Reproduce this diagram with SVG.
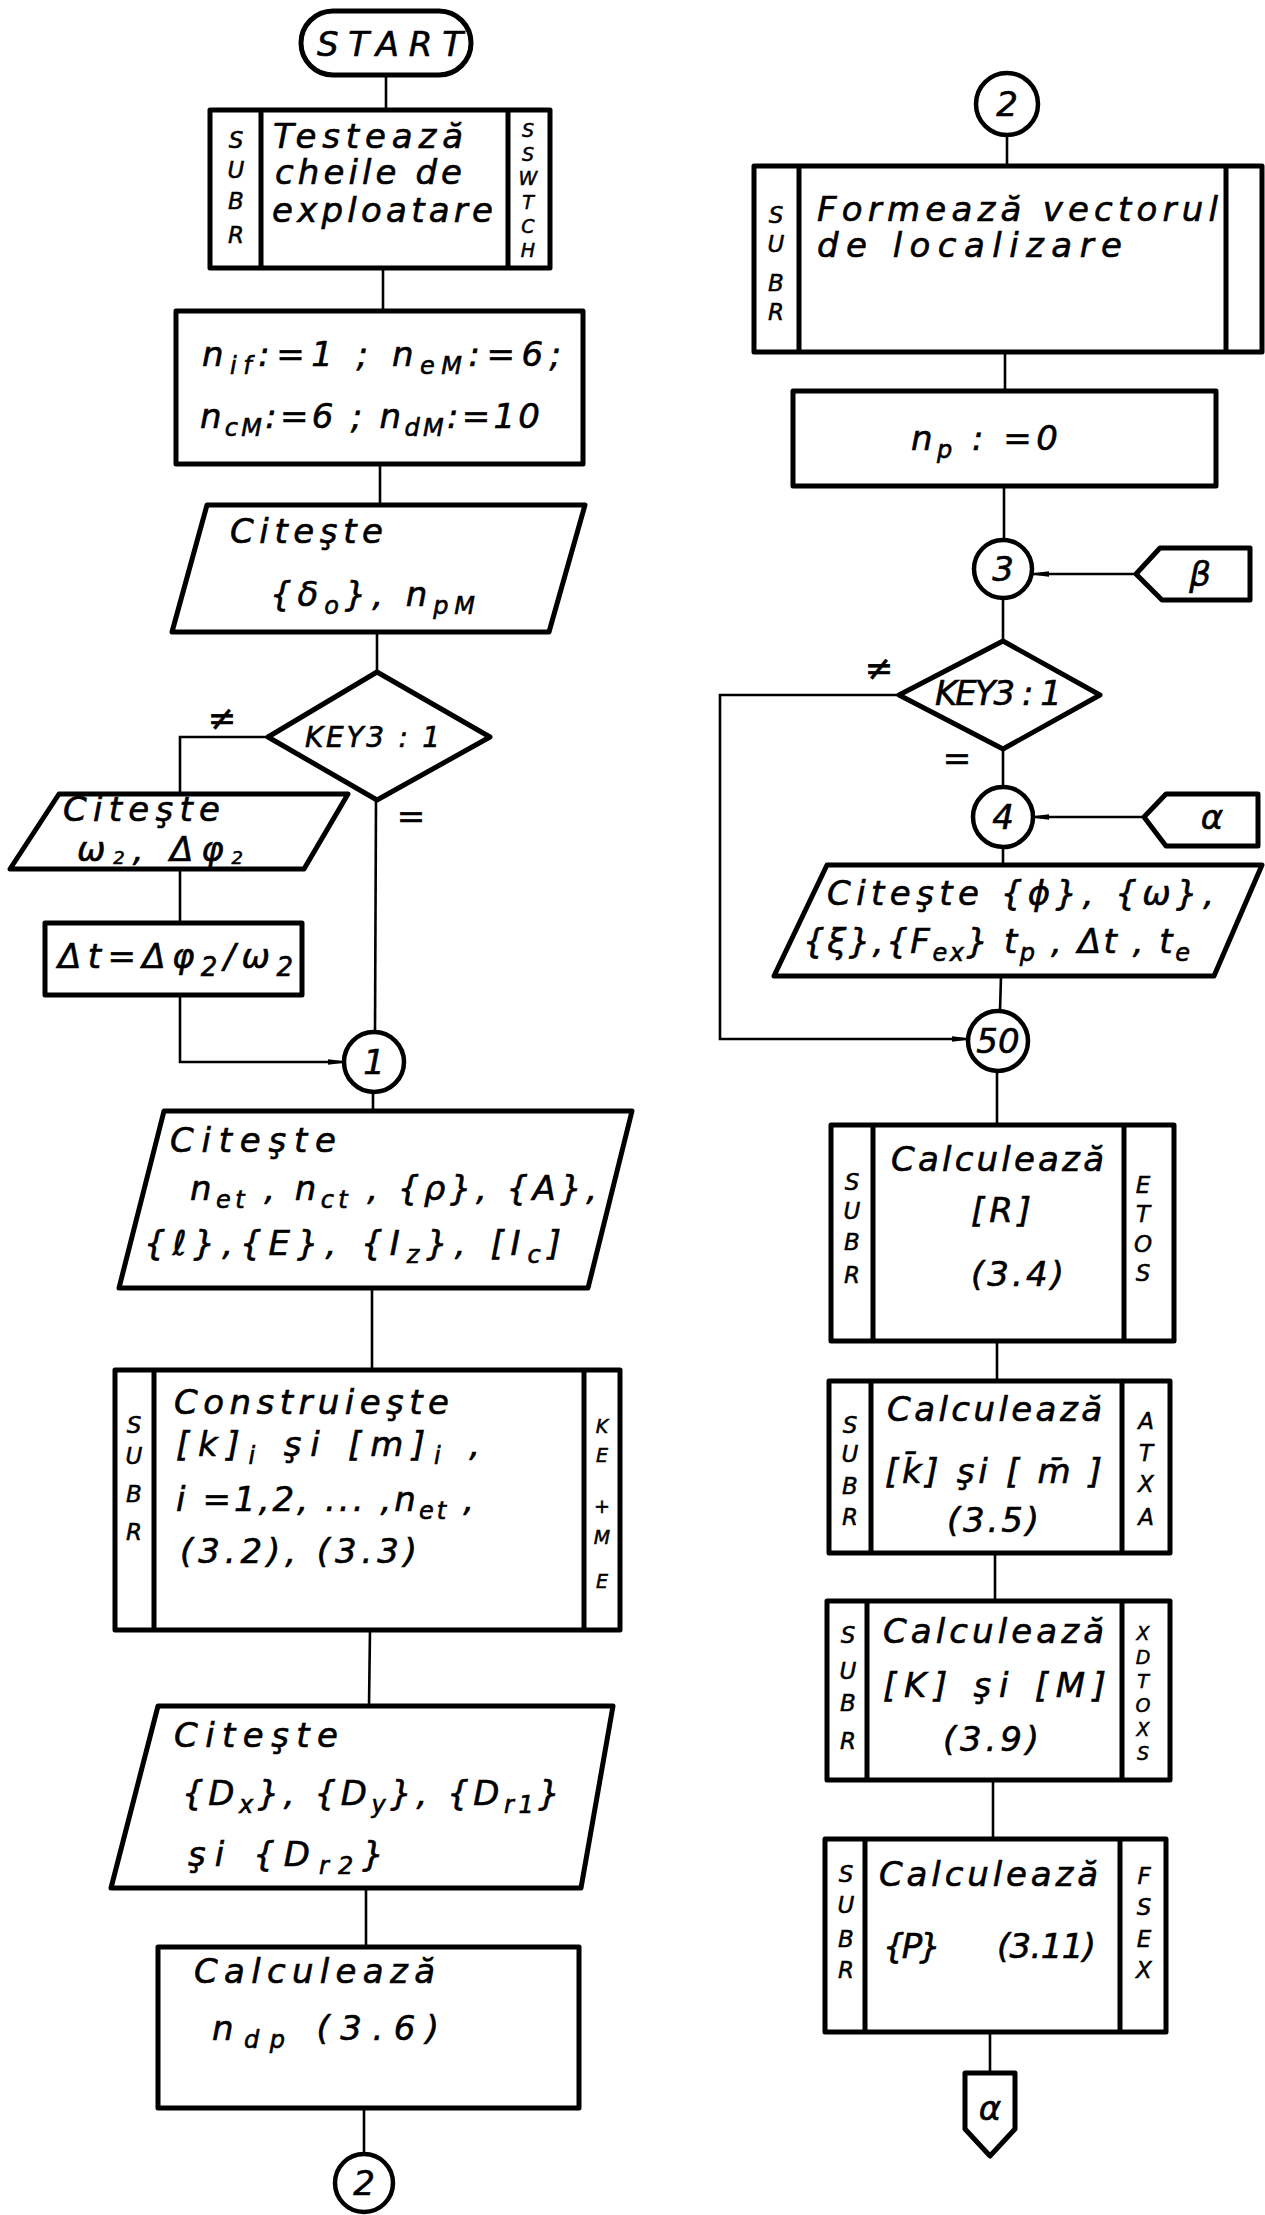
<svg xmlns="http://www.w3.org/2000/svg" width="1265" height="2215" viewBox="0 0 1265 2215">
<style>
.bx{fill:none;stroke:#000;stroke-width:5;stroke-linejoin:round}
.dv{stroke:#000;stroke-width:5}
.cr{fill:none;stroke:#000;stroke-width:4.5}
.ln{fill:none;stroke:#000;stroke-width:2.6}
.t{font-family:"DejaVu Sans","Liberation Sans",sans-serif;font-style:italic;font-size:34px;fill:#000;stroke:#000;stroke-width:0.6}
.m{font-size:28px}
.s{font-family:"DejaVu Sans","Liberation Sans",sans-serif;font-style:italic;font-size:23px;fill:#000;stroke:#000;stroke-width:0.5;text-anchor:middle}
.ss{font-size:19px}
.c{text-anchor:middle;dominant-baseline:central}
</style>
<defs>
<marker id="arr" viewBox="0 0 16 8" refX="16" refY="4" markerWidth="16" markerHeight="8" markerUnits="userSpaceOnUse" orient="auto"><path d="M0,2 L16,4 L0,6 z" fill="#000" stroke="#000" stroke-width="1.5"/></marker>
</defs>
<rect width="1265" height="2215" fill="#fff"/>

<g id="connectors">
<line class="ln" x1="386" y1="75" x2="386" y2="110"/>
<line class="ln" x1="383" y1="268" x2="383" y2="311"/>
<line class="ln" x1="380" y1="464" x2="380" y2="505"/>
<line class="ln" x1="377" y1="632" x2="377" y2="672"/>
<polyline class="ln" points="268,737 180,737 180,794"/>
<line class="ln" x1="180" y1="869" x2="180" y2="923"/>
<polyline class="ln" points="180,995 180,1062 344,1062" marker-end="url(#arr)"/>
<line class="ln" x1="376" y1="800" x2="375" y2="1032"/>
<line class="ln" x1="373" y1="1092" x2="373" y2="1111"/>
<line class="ln" x1="372" y1="1288" x2="372" y2="1370"/>
<line class="ln" x1="370" y1="1630" x2="369" y2="1706"/>
<line class="ln" x1="366" y1="1888" x2="366" y2="1947"/>
<line class="ln" x1="364" y1="2108" x2="364" y2="2154"/>
<line class="ln" x1="1007" y1="135" x2="1007" y2="166"/>
<line class="ln" x1="1005" y1="352" x2="1005" y2="391"/>
<line class="ln" x1="1004" y1="486" x2="1004" y2="540"/>
<line class="ln" x1="1136" y1="574" x2="1033" y2="574" marker-end="url(#arr)"/>
<line class="ln" x1="1003" y1="598" x2="1003" y2="641"/>
<polyline class="ln" points="899,695 720,695 720,1039 968,1039" marker-end="url(#arr)"/>
<line class="ln" x1="1003" y1="749" x2="1003" y2="787"/>
<line class="ln" x1="1144" y1="817" x2="1033" y2="817" marker-end="url(#arr)"/>
<line class="ln" x1="1003" y1="847" x2="1003" y2="865"/>
<line class="ln" x1="1001" y1="976" x2="1000" y2="1011"/>
<line class="ln" x1="997" y1="1071" x2="997" y2="1125"/>
<line class="ln" x1="997" y1="1341" x2="997" y2="1381"/>
<line class="ln" x1="995" y1="1553" x2="995" y2="1601"/>
<line class="ln" x1="993" y1="1780" x2="993" y2="1839"/>
<line class="ln" x1="990" y1="2032" x2="990" y2="2073"/>
<text class="t" x="222" y="730" font-size="32" text-anchor="middle">≠</text>
<text class="t" x="411" y="828" font-size="30" text-anchor="middle">=</text>
<text class="t" x="879" y="680" font-size="32" text-anchor="middle">≠</text>
<text class="t" x="957" y="770" font-size="30" text-anchor="middle">=</text>
</g>

<g id="start">
<rect class="bx" x="301" y="11" width="170" height="64" rx="32"/>
<text class="t" x="317" y="56" font-size="33" stroke-width="1.2" textLength="146" lengthAdjust="spacing">START</text>
</g>

<g id="subr-testeaza">
<rect class="bx" x="210" y="110" width="340" height="158"/>
<line class="dv" x1="261" y1="110" x2="261" y2="268"/>
<line class="dv" x1="508" y1="110" x2="508" y2="268"/>
<text class="s" x="236"><tspan x="236" y="148">S</tspan><tspan x="236" y="178">U</tspan><tspan x="236" y="209">B</tspan><tspan x="236" y="243">R</tspan></text>
<text class="s ss" x="528"><tspan x="528" y="137">S</tspan><tspan x="528" y="161">S</tspan><tspan x="528" y="185">W</tspan><tspan x="528" y="209">T</tspan><tspan x="528" y="233">C</tspan><tspan x="528" y="257">H</tspan></text>
<text class="t" x="273" y="148" font-size="27" textLength="190" lengthAdjust="spacing">Testează</text>
<text class="t" x="275" y="184" font-size="27" textLength="187" lengthAdjust="spacing">cheile de</text>
<text class="t" x="272" y="222" font-size="27" textLength="221" lengthAdjust="spacing">exploatare</text>
</g>

<g id="init-counters">
<rect class="bx" x="176" y="311" width="407" height="153"/>
<text class="t" x="202" y="366" textLength="359" lengthAdjust="spacing">n<tspan dy="8" font-size="24">if</tspan><tspan dy="-8">:=1 ; n</tspan><tspan dy="8" font-size="24">eM</tspan><tspan dy="-8">:=6;</tspan></text>
<text class="t" x="200" y="428" textLength="340" lengthAdjust="spacing">n<tspan dy="8" font-size="24">cM</tspan><tspan dy="-8">:=6 ; n</tspan><tspan dy="8" font-size="24">dM</tspan><tspan dy="-8">:=10</tspan></text>
</g>

<g id="read-delta">
<polygon class="bx" points="207,505 585,505 549,632 172,632"/>
<text class="t" x="230" y="543" textLength="153" lengthAdjust="spacing">Citeşte</text>
<text class="t" x="270" y="606" textLength="205" lengthAdjust="spacing">{δ<tspan dy="8" font-size="24">o</tspan><tspan dy="-8">}, n</tspan><tspan dy="8" font-size="24">pM</tspan></text>
</g>

<g id="key3-left">
<polygon class="bx" points="377,672 490,737 377,800 268,737"/>
<text class="t m" x="305" y="747" textLength="135" lengthAdjust="spacing">KEY3 : 1</text>
</g>

<g id="read-omega">
<polygon class="bx" points="59,794 348,794 304,869 10,869"/>
<text class="t" x="63" y="821" font-size="26" textLength="157" lengthAdjust="spacing">Citeşte</text>
<text class="t" x="77" y="861" font-size="23" textLength="166" lengthAdjust="spacing">ω<tspan dy="3" font-size="18">2</tspan><tspan dy="-3">, Δφ</tspan><tspan dy="3" font-size="18">2</tspan></text>
</g>

<g id="delta-t">
<rect class="bx" x="45" y="923" width="257" height="72"/>
<text class="t" x="58" y="968" textLength="235" lengthAdjust="spacing">Δt=Δφ<tspan dy="8" font-size="26">2</tspan><tspan dy="-8">/ω</tspan><tspan dy="8" font-size="26">2</tspan></text>
</g>

<g id="conn-1">
<circle class="cr" cx="374" cy="1062" r="30"/>
<text class="t c" x="374" y="1062">1</text>
</g>

<g id="read-elements">
<polygon class="bx" points="164,1111 632,1111 588,1288 119,1288"/>
<text class="t" x="170" y="1152" textLength="166" lengthAdjust="spacing">Citeşte</text>
<text class="t" x="190" y="1200" textLength="407" lengthAdjust="spacing">n<tspan dy="8" font-size="24">et</tspan><tspan dy="-8"> , n</tspan><tspan dy="8" font-size="24">ct</tspan><tspan dy="-8"> , {ρ}, {A},</tspan></text>
<text class="t" x="144" y="1255" textLength="417" lengthAdjust="spacing">{ℓ},{E}, {I<tspan dy="8" font-size="24">z</tspan><tspan dy="-8">}, [I</tspan><tspan dy="8" font-size="24">c</tspan><tspan dy="-8">]</tspan></text>
</g>

<g id="subr-construieste">
<rect class="bx" x="115" y="1370" width="505" height="260"/>
<line class="dv" x1="154" y1="1370" x2="154" y2="1630"/>
<line class="dv" x1="584" y1="1370" x2="584" y2="1630"/>
<text class="s" x="134"><tspan x="134" y="1433">S</tspan><tspan x="134" y="1464">U</tspan><tspan x="134" y="1502">B</tspan><tspan x="134" y="1540">R</tspan></text>
<text class="s ss" x="602"><tspan x="602" y="1433">K</tspan><tspan x="602" y="1462">E</tspan><tspan x="602" y="1513">+</tspan><tspan x="602" y="1544">M</tspan><tspan x="602" y="1588">E</tspan></text>
<text class="t" x="174" y="1414" textLength="275" lengthAdjust="spacing">Construieşte</text>
<text class="t" x="176" y="1456" textLength="304" lengthAdjust="spacing">[k]<tspan dy="8" font-size="24">i</tspan><tspan dy="-8">  şi  [m]</tspan><tspan dy="8" font-size="24">i</tspan><tspan dy="-8"> ,</tspan></text>
<text class="t" x="176" y="1511" textLength="298" lengthAdjust="spacing">i =1,2, ... ,n<tspan dy="8" font-size="24">et</tspan><tspan dy="-8"> ,</tspan></text>
<text class="t" x="180" y="1563" textLength="237" lengthAdjust="spacing">(3.2), (3.3)</text>
</g>

<g id="read-d">
<polygon class="bx" points="158,1706 613,1706 581,1888 111,1888"/>
<text class="t" x="174" y="1747" textLength="164" lengthAdjust="spacing">Citeşte</text>
<text class="t" x="182" y="1805" textLength="378" lengthAdjust="spacing">{D<tspan dy="8" font-size="24">x</tspan><tspan dy="-8">}, {D</tspan><tspan dy="8" font-size="24">y</tspan><tspan dy="-8">}, {D</tspan><tspan dy="8" font-size="24">r1</tspan><tspan dy="-8">}</tspan></text>
<text class="t" x="188" y="1866" textLength="196" lengthAdjust="spacing">şi {D<tspan dy="8" font-size="24">r2</tspan><tspan dy="-8">}</tspan></text>
</g>

<g id="calc-ndp">
<rect class="bx" x="158" y="1947" width="421" height="161"/>
<text class="t" x="194" y="1983" textLength="241" lengthAdjust="spacing">Calculează</text>
<text class="t" x="212" y="2040" textLength="227" lengthAdjust="spacing">n<tspan dy="8" font-size="24">dp</tspan><tspan dy="-8">  (3.6)</tspan></text>
</g>

<g id="conn-2-out">
<circle class="cr" cx="364" cy="2183" r="29"/>
<text class="t c" x="364" y="2183">2</text>
</g>

<g id="conn-2-in">
<circle class="cr" cx="1007" cy="104" r="31"/>
<text class="t c" x="1007" y="104">2</text>
</g>

<g id="subr-formeaza">
<rect class="bx" x="754" y="166" width="508" height="186"/>
<line class="dv" x1="799" y1="166" x2="799" y2="352"/>
<line class="dv" x1="1226" y1="166" x2="1226" y2="352"/>
<text class="s" x="776"><tspan x="776" y="223">S</tspan><tspan x="776" y="252">U</tspan><tspan x="776" y="291">B</tspan><tspan x="776" y="320">R</tspan></text>
<text class="t" x="817" y="221" textLength="401" lengthAdjust="spacing">Formează vectorul</text>
<text class="t" x="817" y="257" textLength="305" lengthAdjust="spacing">de localizare</text>
</g>

<g id="init-np">
<rect class="bx" x="793" y="391" width="423" height="95"/>
<text class="t" x="911" y="450" textLength="147" lengthAdjust="spacing">n<tspan dy="8" font-size="24">p</tspan><tspan dy="-8"> : =0</tspan></text>
</g>

<g id="conn-3">
<circle class="cr" cx="1003" cy="569" r="29"/>
<text class="t c" x="1003" y="569">3</text>
</g>

<g id="offpage-beta">
<polygon class="bx" points="1136,574 1160,548 1250,548 1250,600 1162,600"/>
<text class="t c" x="1200" y="574">β</text>
</g>

<g id="key3-right">
<polygon class="bx" points="1003,641 1100,695 1003,749 899,695"/>
<text class="t" x="935" y="705" font-size="26" textLength="127" lengthAdjust="spacing">KEY3 : 1</text>
</g>

<g id="conn-4">
<circle class="cr" cx="1003" cy="817" r="30"/>
<text class="t c" x="1003" y="817">4</text>
</g>

<g id="offpage-alpha-in">
<polygon class="bx" points="1144,817 1166,794 1258,794 1258,846 1166,846"/>
<text class="t c" x="1212" y="817">α</text>
</g>

<g id="read-phi">
<polygon class="bx" points="827,865 1262,865 1214,976 774,976"/>
<text class="t" x="827" y="905" textLength="387" lengthAdjust="spacing">Citeşte  {ϕ}, {ω},</text>
<text class="t" x="803" y="953" textLength="387" lengthAdjust="spacing">{ξ},{F<tspan dy="8" font-size="24">ex</tspan><tspan dy="-8">} t</tspan><tspan dy="8" font-size="24">p</tspan><tspan dy="-8"> , Δt , t</tspan><tspan dy="8" font-size="24">e</tspan></text>
</g>

<g id="conn-50">
<circle class="cr" cx="998" cy="1041" r="30"/>
<text class="t c" x="998" y="1041" font-size="30">50</text>
</g>

<g id="subr-etos">
<rect class="bx" x="831" y="1125" width="343" height="216"/>
<line class="dv" x1="873" y1="1125" x2="873" y2="1341"/>
<line class="dv" x1="1124" y1="1125" x2="1124" y2="1341"/>
<text class="s" x="852"><tspan x="852" y="1190">S</tspan><tspan x="852" y="1219">U</tspan><tspan x="852" y="1250">B</tspan><tspan x="852" y="1283">R</tspan></text>
<text class="s" x="1143"><tspan x="1143" y="1193">E</tspan><tspan x="1143" y="1222">T</tspan><tspan x="1143" y="1252">O</tspan><tspan x="1143" y="1281">S</tspan></text>
<text class="t" x="891" y="1171" textLength="213" lengthAdjust="spacing">Calculează</text>
<text class="t" x="971" y="1222" textLength="60" lengthAdjust="spacing">[R]</text>
<text class="t" x="971" y="1286" textLength="93" lengthAdjust="spacing">(3.4)</text>
</g>

<g id="subr-atxa">
<rect class="bx" x="829" y="1381" width="341" height="172"/>
<line class="dv" x1="871" y1="1381" x2="871" y2="1553"/>
<line class="dv" x1="1122" y1="1381" x2="1122" y2="1553"/>
<text class="s" x="850"><tspan x="850" y="1433">S</tspan><tspan x="850" y="1462">U</tspan><tspan x="850" y="1494">B</tspan><tspan x="850" y="1525">R</tspan></text>
<text class="s" x="1146"><tspan x="1146" y="1429">A</tspan><tspan x="1146" y="1461">T</tspan><tspan x="1146" y="1492">X</tspan><tspan x="1146" y="1525">A</tspan></text>
<text class="t" x="887" y="1421" textLength="215" lengthAdjust="spacing">Calculează</text>
<text class="t" x="885" y="1483" textLength="217" lengthAdjust="spacing">[k̄] şi [ m̄ ]</text>
<text class="t" x="947" y="1532" textLength="92" lengthAdjust="spacing">(3.5)</text>
</g>

<g id="subr-xdtoxs">
<rect class="bx" x="827" y="1601" width="343" height="179"/>
<line class="dv" x1="867" y1="1601" x2="867" y2="1780"/>
<line class="dv" x1="1122" y1="1601" x2="1122" y2="1780"/>
<text class="s" x="848"><tspan x="848" y="1643">S</tspan><tspan x="848" y="1679">U</tspan><tspan x="848" y="1711">B</tspan><tspan x="848" y="1749">R</tspan></text>
<text class="s ss" x="1143"><tspan x="1143" y="1640">X</tspan><tspan x="1143" y="1664">D</tspan><tspan x="1143" y="1688">T</tspan><tspan x="1143" y="1712">O</tspan><tspan x="1143" y="1736">X</tspan><tspan x="1143" y="1760">S</tspan></text>
<text class="t" x="883" y="1643" textLength="221" lengthAdjust="spacing">Calculează</text>
<text class="t" x="883" y="1697" textLength="223" lengthAdjust="spacing">[K]  şi [M]</text>
<text class="t" x="943" y="1751" textLength="96" lengthAdjust="spacing">(3.9)</text>
</g>

<g id="subr-fsex">
<rect class="bx" x="825" y="1839" width="341" height="193"/>
<line class="dv" x1="865" y1="1839" x2="865" y2="2032"/>
<line class="dv" x1="1120" y1="1839" x2="1120" y2="2032"/>
<text class="s" x="846"><tspan x="846" y="1882">S</tspan><tspan x="846" y="1913">U</tspan><tspan x="846" y="1947">B</tspan><tspan x="846" y="1978">R</tspan></text>
<text class="s" x="1144"><tspan x="1144" y="1884">F</tspan><tspan x="1144" y="1915">S</tspan><tspan x="1144" y="1947">E</tspan><tspan x="1144" y="1978">X</tspan></text>
<text class="t" x="879" y="1886" textLength="219" lengthAdjust="spacing">Calculează</text>
<text class="t" x="883" y="1958" textLength="58" lengthAdjust="spacing">{P}</text>
<text class="t" x="997" y="1958" textLength="99" lengthAdjust="spacing">(3.11)</text>
</g>

<g id="offpage-alpha-out">
<polygon class="bx" points="965,2073 1015,2073 1015,2129 990,2156 965,2129"/>
<text class="t c" x="990" y="2108">α</text>
</g>
</svg>
